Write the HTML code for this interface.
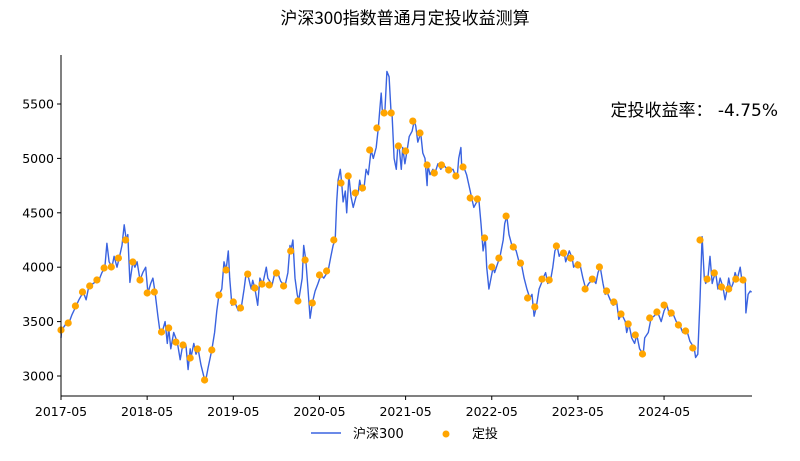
<!DOCTYPE html>
<html><head><meta charset="utf-8"><style>
html,body{margin:0;padding:0;background:#fff;}
svg{display:block;font-family:"DejaVu Sans","Liberation Sans","Noto Sans CJK SC",sans-serif;}
</style></head><body>
<svg id="chart" width="800" height="461" viewBox="0 0 800 461" xmlns="http://www.w3.org/2000/svg">
<text x="405" y="24" text-anchor="middle" font-size="17" fill="#000" font-family="'Noto Sans CJK SC',sans-serif">沪深300指数普通月定投收益测算</text>
<text x="778" y="116" text-anchor="end" font-size="17" fill="#000" font-family="'DejaVu Sans','Noto Sans CJK SC',sans-serif">定投收益率： -4.75%</text>
<g id="plot"></g>
<g id="axes"></g>
<g>
<line x1="311" y1="433" x2="341" y2="433" stroke="#3a63e0" stroke-width="1.5"/>
<text x="353" y="438" font-size="13">沪深300</text>
<circle cx="446" cy="434" r="3.5" fill="#ffa500"/>
<text x="472" y="438" font-size="13" font-family="'Noto Sans CJK SC',sans-serif">定投</text>
</g>
</svg>
<script>
const lineMonths=[0,0.1,0.7,1.1,1.5,2.1,2.5,3.1,3.5,3.8,4.0,4.7,5.3,5.7,6.1,6.4,6.7,7.1,7.4,7.8,8.1,8.5,8.8,9.1,9.3,9.6,10.0,10.3,10.6,11.0,11.4,11.8,12.1,12.5,12.8,13.1,13.5,13.8,14.1,14.5,14.8,15.0,15.3,15.7,16.2,16.6,17.0,17.4,17.7,18.0,18.1,18.5,18.8,19.1,19.5,20.1,20.5,21.0,21.4,21.7,22.0,22.4,22.7,23.0,23.3,23.5,23.8,24.2,24.7,25.1,25.5,25.8,26.0,26.5,26.7,27.0,27.4,27.7,28.1,28.6,28.8,29.4,29.8,30.2,30.6,31.2,31.6,31.9,32.0,32.3,32.6,32.9,33.1,33.6,33.8,34.1,34.4,34.7,35.0,35.4,35.8,36.2,36.6,37.2,37.6,37.9,38.2,38.4,38.6,38.9,39.1,39.3,39.6,39.8,40.1,40.4,40.7,41.1,41.4,41.6,41.9,42.2,42.5,42.8,43.2,43.5,43.9,44.2,44.4,44.6,44.8,45.1,45.4,45.7,46.0,46.1,46.4,46.7,46.9,47.1,47.4,47.6,47.9,48.2,48.5,48.9,49.2,49.4,49.7,50.1,50.4,50.7,51.0,51.1,51.4,51.8,52.1,52.5,52.9,53.3,53.8,54.2,54.6,54.9,55.2,55.4,55.7,55.8,56.1,56.5,57.0,57.2,57.5,57.9,58.2,58.5,58.8,59.1,59.3,59.6,59.9,60.2,60.4,60.9,61.1,61.6,61.8,62.1,62.4,62.8,63.1,63.4,63.8,64.1,64.5,64.9,65.3,65.6,65.9,66.2,66.6,66.9,67.1,67.5,67.8,68.2,68.5,68.8,69.1,69.4,69.8,70.1,70.3,70.8,71.2,71.4,71.9,72.3,72.7,73.1,73.5,74.1,74.5,74.8,75.1,75.5,75.8,76.0,76.5,76.9,77.4,77.7,78.1,78.6,78.8,79.1,79.5,79.9,80.2,80.6,81.1,81.3,81.8,82.2,82.6,83.1,83.6,84.0,84.4,84.8,85.2,85.7,86.2,86.6,87.2,87.6,88.2,88.4,88.7,89.0,89.3,89.6,89.8,90.1,90.4,90.7,90.9,91.2,91.5,91.8,92.2,92.5,92.8,93.0,93.3,93.6,93.9,94.2,94.6,94.8,95.3,95.4,95.7,96.0,96.2];
const lineValues=[3350,3423,3480,3487,3560,3643,3700,3772,3700,3800,3827,3860,3882,3950,3993,4220,4050,4002,4100,4000,4084,4200,4390,4250,4300,3860,4048,4000,4050,3882,3950,4000,3763,3850,3900,3772,3550,3400,3404,3500,3300,3441,3250,3400,3312,3150,3300,3285,3060,3250,3165,3300,3200,3248,3100,2940,3080,3239,3400,3600,3744,3800,4050,3974,4150,3900,3650,3680,3600,3625,3800,3950,3937,3800,3880,3809,3650,3900,3845,4000,3900,3836,3950,3947,3870,3827,3950,4200,4149,4250,3900,3750,3689,3900,4200,4066,3800,3530,3671,3780,3850,3928,3900,3965,4100,4200,4250,4600,4800,4900,4774,4600,4700,4500,4838,4650,4550,4650,4682,4800,4700,4728,4900,4850,5077,5000,5100,5279,5450,5600,5400,5417,5800,5750,5400,5417,5000,4900,5100,5114,4900,5100,4950,5068,5200,5250,5343,5300,5150,5233,5050,5000,4750,4939,4850,4900,4866,4950,4900,4939,4900,4893,4900,4850,4838,5000,5100,4950,4921,4850,4700,4636,4550,4600,4627,4400,4150,4268,4000,3800,3900,4002,3950,4050,4084,4250,4400,4470,4300,4200,4186,4150,4050,4038,3900,3800,3717,3750,3550,3634,3800,3850,3891,3950,3850,3882,4000,4150,4195,4100,4150,4130,4050,4150,4084,4000,4050,4020,3900,3800,3850,3891,3850,3950,4002,3850,3750,3781,3700,3650,3680,3520,3570,3500,3400,3478,3350,3300,3377,3250,3202,3350,3400,3533,3550,3588,3500,3600,3652,3550,3579,3500,3469,3400,3414,3320,3257,3170,3200,3700,4280,3900,3850,3891,4100,3850,3900,3947,3800,3900,3818,3700,3800,3900,3800,3850,3950,3891,4000,3900,3882,3580,3750,3780,3770];
const dotValues=[3423,3487,3643,3772,3827,3882,3993,4002,4084,4250,4048,3882,3763,3772,3404,3441,3312,3285,3165,3248,2963,3239,3744,3974,3680,3625,3937,3809,3845,3836,3947,3827,4149,3689,4066,3671,3928,3965,4250,4774,4838,4682,4728,5077,5279,5417,5417,5114,5068,5343,5233,4939,4866,4939,4893,4838,4921,4636,4627,4268,4002,4084,4470,4186,4038,3717,3634,3891,3882,4195,4130,4084,4020,3800,3891,4002,3781,3680,3570,3478,3377,3202,3533,3588,3652,3579,3469,3414,3257,4250,3891,3947,3818,3800,3891,3882];
const xTickMonths=[0,12,24,36,48,60,72,84];
const xTickLabels=["2017-05","2018-05","2019-05","2020-05","2021-05","2022-05","2023-05","2024-05"];
const yTickValues=[3000,3500,4000,4500,5000,5500];

const NS="http://www.w3.org/2000/svg";
const X0=61,X1=752,Y0=396,YT=55;
function xs(m){return X0+(m-0)/(96.25)*(X1-X0);}
function ys(v){return 376-(v-3000)*0.1088;}
const plot=document.getElementById('plot');
const axes=document.getElementById('axes');
function mk(tag,attrs,parent){const e=document.createElementNS(NS,tag);for(const k in attrs)e.setAttribute(k,attrs[k]);parent.appendChild(e);return e;}

let d='';
for(let i=0;i<lineValues.length;i++){d+=(i?'L':'M')+xs(lineMonths[i]).toFixed(1)+','+ys(lineValues[i]).toFixed(1);}
const path=mk('path',{d:d,fill:'none',stroke:'#3a63e0','stroke-width':1.4,'stroke-linejoin':'round'},plot);


for(let i=0;i<dotValues.length;i++){
  const c=mk('circle',{cx:xs(i).toFixed(1),cy:ys(dotValues[i]).toFixed(1),r:3.6,fill:'#ffa500'},plot);
  
  
}
const ya=mk('line',{x1:X0,y1:YT,x2:X0,y2:Y0,stroke:'#000','stroke-width':1},axes);


const xa=mk('line',{x1:X0,y1:Y0,x2:X1,y2:Y0,stroke:'#000','stroke-width':1},axes);


yTickValues.forEach(v=>{
  const y=ys(v);
  const t=mk('line',{x1:X0-4,y1:y,x2:X0,y2:y,stroke:'#000'},axes);
  
  
  const l=mk('text',{x:X0-7,y:y+4.5,'text-anchor':'end','font-size':12.5},axes);
  l.textContent=v;
  
  
});
xTickMonths.forEach((m,i)=>{
  const x=xs(m);
  const t=mk('line',{x1:x,y1:Y0,x2:x,y2:Y0+4,stroke:'#000'},axes);
  
  
  const l=mk('text',{x:x,y:Y0+20,'text-anchor':'middle','font-size':12.5},axes);
  l.textContent=xTickLabels[i];
  
  
});
</script>
</body></html>
